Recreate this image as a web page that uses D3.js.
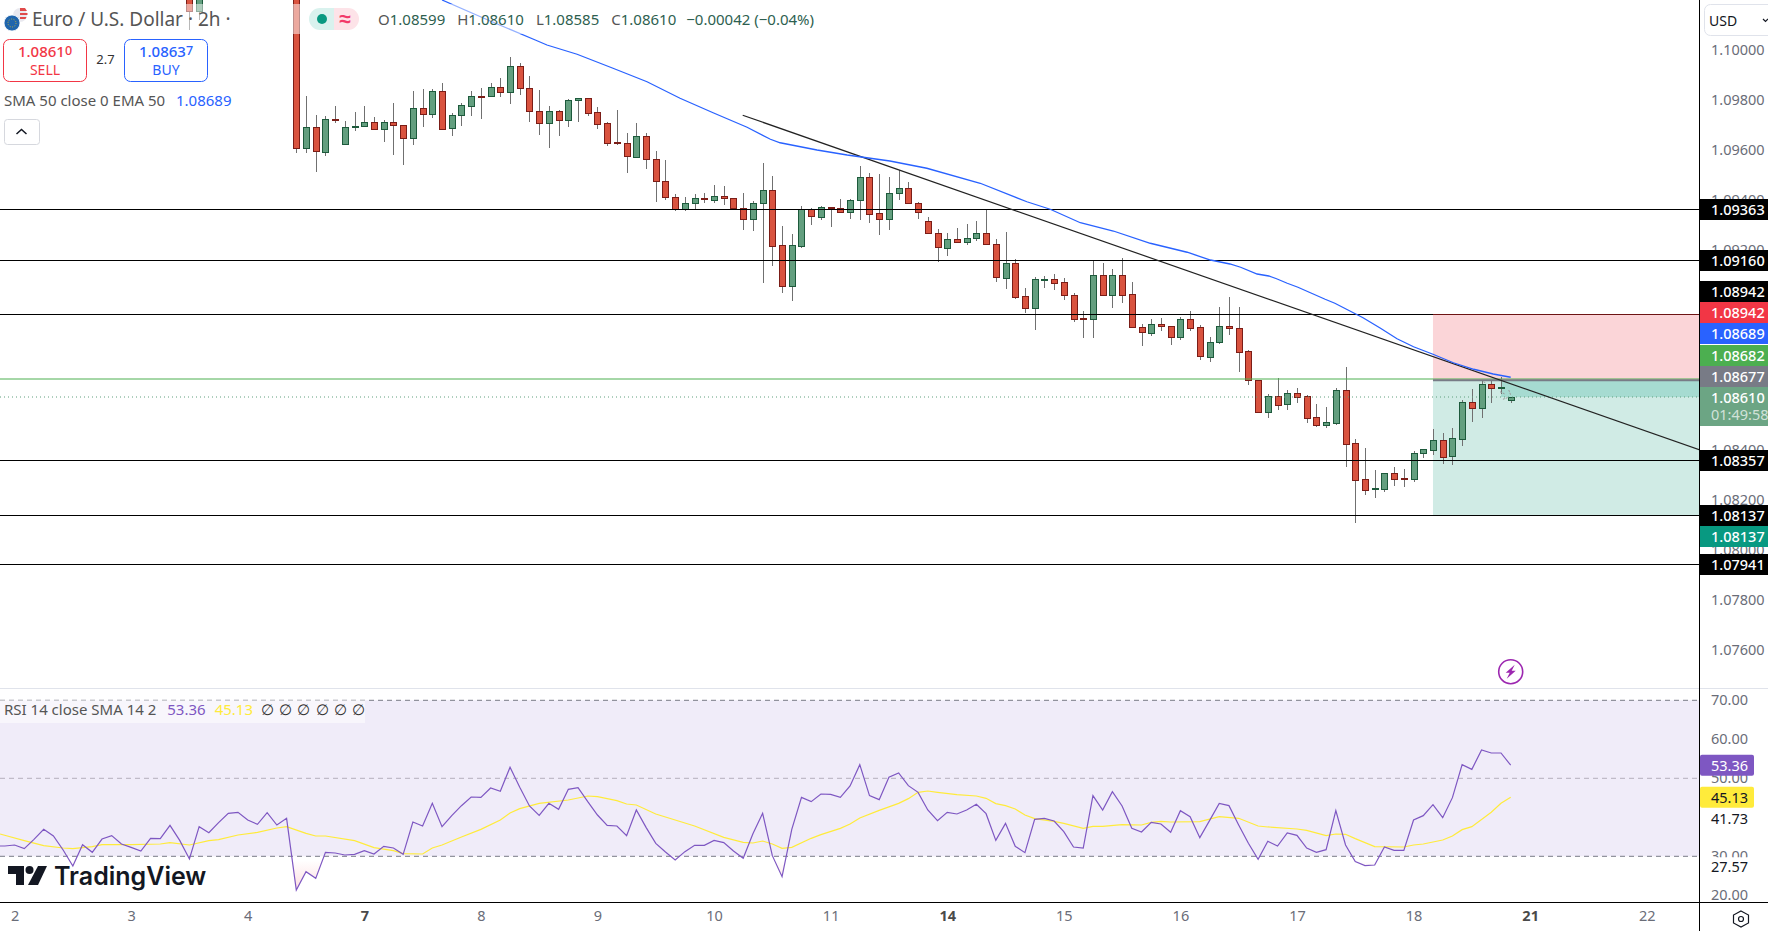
<!DOCTYPE html>
<html>
<head>
<meta charset="utf-8">
<style>
	html, body { margin: 0; padding: 0; background: #fff; overflow: hidden; }
	svg { display: block; font-family: "Noto Sans", sans-serif; }
	text { -webkit-font-smoothing: antialiased; }
</style>
<script src="https://cdn.jsdelivr.net/npm/d3@7"></script>
</head>
<body>
<svg id="chart" width="1768" height="931"></svg>
<script>
// candles, index 0 is the tall red bar at the left edge of the visible run
var opens = [1.10400,1.09603,1.09689,1.09591,1.09721,1.09619,1.09687,1.09691,1.09709,1.09679,
	1.09709,1.09697,1.09643,1.09765,1.09739,1.09833,1.09683,1.09735,1.09775,1.09813,
	1.09813,1.09849,1.09831,1.09933,1.09845,1.09753,1.09703,1.09753,1.09715,1.09795,
	1.09805,1.09749,1.09705,1.09629,1.09625,1.09571,1.09653,1.09561,1.09473,1.09409,
	1.09359,1.09383,1.09405,1.09399,1.09413,1.09405,1.09365,1.09323,1.09383,1.09437,
	1.09217,1.09051,1.09215,1.09361,1.09331,1.09370,1.09365,1.09351,1.09395,1.09489,
	1.09345,1.09323,1.09423,1.09445,1.09385,1.09313,1.09265,1.09207,1.09241,1.09231,
	1.09243,1.09265,1.09221,1.09087,1.09145,1.09013,1.08967,1.09079,1.09081,1.09069,
	1.09017,1.08925,1.08919,1.09097,1.09019,1.09097,1.09021,1.08889,1.08867,1.08901,
	1.08893,1.08847,1.08921,1.08889,1.08771,1.08827,1.08893,1.08885,1.08793,1.08677,
	1.08551,1.08613,1.08579,1.08625,1.08613,1.08529,1.08499,1.08507,1.08637,1.08425,
	1.08281,1.08243,1.08243,1.08305,1.08285,1.08283,1.08383,1.08399,1.08437,1.08371,
	1.08443,1.08589,1.08563,1.08661,1.08647,1.08599];
var highs = [1.10450,1.09814,1.09738,1.09734,1.09774,1.09714,1.09750,1.09774,1.09729,1.09717,
	1.09786,1.09697,1.09834,1.09841,1.09841,1.09866,1.09745,1.09785,1.09834,1.09846,
	1.09866,1.09886,1.09970,1.09946,1.09894,1.09838,1.09774,1.09758,1.09801,1.09805,
	1.09805,1.09770,1.09709,1.09758,1.09666,1.09706,1.09666,1.09594,1.09558,1.09422,
	1.09409,1.09422,1.09426,1.09458,1.09454,1.09405,1.09426,1.09393,1.09546,1.09494,
	1.09294,1.09262,1.09374,1.09365,1.09373,1.09370,1.09402,1.09401,1.09534,1.09506,
	1.09502,1.09490,1.09518,1.09470,1.09389,1.09330,1.09281,1.09265,1.09285,1.09302,
	1.09314,1.09361,1.09243,1.09270,1.09161,1.09045,1.09090,1.09093,1.09102,1.09085,
	1.09025,1.08953,1.09157,1.09145,1.09121,1.09165,1.09069,1.08901,1.08922,1.08925,
	1.08893,1.08929,1.08953,1.08897,1.08849,1.08969,1.09009,1.08969,1.08797,1.08677,
	1.08621,1.08686,1.08637,1.08645,1.08617,1.08581,1.08569,1.08645,1.08729,1.08441,
	1.08405,1.08317,1.08305,1.08330,1.08321,1.08393,1.08401,1.08481,1.08465,1.08485,
	1.08597,1.08641,1.08677,1.08678,1.08689,1.08610];
var lows = [1.09587,1.09587,1.09511,1.09575,1.09705,1.09619,1.09675,1.09691,1.09679,1.09631,
	1.09579,1.09539,1.09619,1.09691,1.09727,1.09679,1.09655,1.09695,1.09735,1.09723,
	1.09813,1.09811,1.09783,1.09819,1.09711,1.09659,1.09607,1.09655,1.09691,1.09711,
	1.09735,1.09683,1.09615,1.09619,1.09507,1.09567,1.09523,1.09391,1.09399,1.09355,
	1.09355,1.09361,1.09387,1.09387,1.09379,1.09359,1.09279,1.09275,1.09067,1.09134,
	1.09027,1.08995,1.09207,1.09299,1.09319,1.09291,1.09351,1.09323,1.09319,1.09307,
	1.09259,1.09279,1.09399,1.09383,1.09323,1.09263,1.09151,1.09175,1.09231,1.09219,
	1.09235,1.09219,1.09071,1.09043,1.09003,1.08947,1.08879,1.09047,1.09039,1.08999,
	1.08911,1.08847,1.08847,1.09019,1.08967,1.08987,1.08887,1.08815,1.08855,1.08875,
	1.08819,1.08839,1.08875,1.08759,1.08751,1.08823,1.08859,1.08711,1.08659,1.08551,
	1.08526,1.08559,1.08559,1.08587,1.08507,1.08491,1.08487,1.08499,1.08331,1.08107,
	1.08219,1.08207,1.08231,1.08255,1.08251,1.08271,1.08367,1.08378,1.08342,1.08338,
	1.08414,1.08511,1.08526,1.08587,1.08621,1.08585];
var closes = [1.09603,1.09689,1.09591,1.09721,1.09715,1.09689,1.09693,1.09709,1.09679,1.09709,
	1.09695,1.09643,1.09765,1.09739,1.09833,1.09683,1.09737,1.09777,1.09813,1.09811,
	1.09849,1.09831,1.09933,1.09843,1.09751,1.09703,1.09753,1.09715,1.09797,1.09805,
	1.09747,1.09703,1.09627,1.09627,1.09571,1.09653,1.09559,1.09471,1.09407,1.09359,
	1.09385,1.09405,1.09403,1.09413,1.09403,1.09363,1.09323,1.09385,1.09437,1.09215,
	1.09051,1.09217,1.09361,1.09331,1.09369,1.09367,1.09351,1.09397,1.09489,1.09343,
	1.09323,1.09425,1.09445,1.09383,1.09351,1.09263,1.09207,1.09241,1.09231,1.09245,
	1.09265,1.09219,1.09087,1.09145,1.09011,1.08967,1.09081,1.09081,1.09067,1.09015,
	1.08923,1.08919,1.09097,1.09019,1.09097,1.09019,1.08887,1.08867,1.08901,1.08891,
	1.08847,1.08921,1.08887,1.08771,1.08829,1.08893,1.08883,1.08791,1.08675,1.08551,
	1.08613,1.08579,1.08625,1.08611,1.08527,1.08499,1.08509,1.08637,1.08423,1.08279,
	1.08239,1.08245,1.08305,1.08283,1.08283,1.08385,1.08401,1.08437,1.08371,1.08445,
	1.08589,1.08563,1.08661,1.08647,1.08649,1.08610];

// two older candles still poking into the top of the picture
var earlyIndex = [-11, -10];
var earlyOpens = [1.10300, 1.10155];
var earlyHighs = [1.10350, 1.10350];
var earlyLows = [1.10078, 1.10118];
var earlyCloses = [1.10155, 1.10300];

var priceTicks = [1.100,1.098,1.096,1.094,1.092,1.090,1.088,1.086,1.084,1.082,1.080,1.078,1.076];
var dayTickIndex = [-29,-17,-5,7,19,31,43,55,67,79,91,103,115,127,139];
var dayLabels = ["2","3","4","7","8","9","10","11","14","15","16","17","18","21","22"];
var weekStarts = ["7","14","21"];

// EMA 50, read at the corners of the line
var emaIndex = [15,19.9,24.6,25.8,28.9,32.6,36.1,39.5,42.9,46.4,48.8,49.8,53.6,56.7,61.1,64.9,70.4,75.2,77.6,80.7,84.1,87.9,91.7,94.1,96.1,97.2,98.9,100.1,100.9,102,103.1,104.5,105.9,106.9,108.1,109.8,111.6,113.3,115,117,119.1,121.2,123.2,125];
var emaValues = [1.10198,1.10115,1.10038,1.10018,1.09981,1.09925,1.09871,1.09805,1.09747,1.09689,1.09641,1.09627,1.09598,1.09578,1.09554,1.09525,1.09465,1.09391,1.09361,1.09307,1.09274,1.09225,1.09189,1.09158,1.09142,1.09129,1.09102,1.09094,1.09083,1.09065,1.09049,1.09025,1.09001,1.08985,1.08961,1.08927,1.08885,1.08843,1.08811,1.08781,1.08747,1.08721,1.08702,1.08689];

// drawn levels
var levelPrices = [1.09363, 1.09160, 1.08942, 1.08357, 1.08137, 1.07941];
var entryPrice = 1.08682;
var lastPrice = 1.08610;
var stopPrice = 1.08942;
var positionEntry = 1.08677;
var targetPrice = 1.08137;
var positionStartIndex = 117;
var trendIndex = [45.95, 144.4];
var trendPrices = [1.09737, 1.08399];

// dashes of the faint projection next to the last candles
var ghostIndex = [[122.2,122.4],[123.9,124.4],[124.8,125],[124.2,124.8]];
var ghostPrices = [[1.08671,1.08667],[1.08631,1.08622],[1.08638,1.08618],[1.08601,1.08609]];

// price scale tags
var tagPrices = [1.09363,1.09160,1.08942,1.08942,1.08689,1.08682,1.08677,1.08610,1.08357,1.08137,1.08137,1.07941];
var tagFills = ["#000","#000","#000","#f23645","#2962ff","#4caf50","#787b86","#6ca584","#000","#000","#089981","#000"];

// RSI, starting at candle -31
var rsiStart = -31;
var rsiValues = [32.64,32.64,32.9,31.96,34.35,36.91,35.2,31.61,27.51,32.98,31.02,34.43,35.29,33.15,32.3,31.36,34.61,34.52,37.94,34.09,29.31,37.6,36.06,38.62,41.02,41.27,39.31,38.2,41.19,38.02,39.73,
	21.36,26.06,24.35,31.02,30.85,30.33,30.5,31.44,30.59,32.55,32.13,30.5,38.79,37.77,43.58,37.6,40.42,42.98,45.2,45.12,47.51,46.66,52.81,47.68,42.9,40.5,43.58,42.04,47.17,47.6,44.01,40.59,
	37.94,37.77,35.29,41.87,37.43,33.32,31.1,29.05,31.19,32.81,32.81,34.09,33.5,31.36,29.48,35.8,41.02,30.16,24.78,36.91,45.12,44.01,45.97,45.89,45.12,48.03,53.5,45.55,44.52,50.25,51.36,48.11,46.4,41.87,39.14,41.27,40.85,41.87,43.32,40.93,34.09,38.45,32.56,30.93,39.48,39.73,39.05,36.32,32.38,32.13,45.55,41.87,
	46.58,42.9,37.17,36.23,38.71,38.29,36.15,41.7,40.17,34.78,39.14,43.58,42.99,38.03,33.33,29.23,33.84,32.64,35.98,35.38,32.13,31.02,31.7,41.7,32.9,28.63,27.6,27.77,32.39,31.53,31.53,39.31,40.42,43.24,39.91,45.04,53.5,52.3,57.26,56.49,56.49,53.36];

// SMA of the RSI, read at the corners of the line
var smaIndex = [-30.5,-28,-26,-24,-23,-21,-20,-17,-14,-13,-11,-9,-8,-6,-4,-2,-1,1,2,3,6,8,10,11,13,14,15,17,19,21,22,23,25,28,30,31,
	33,34,35,37,41,44,46,47,48,49,50,51,53,54,56,57,58,60,62,63,64,65,66,68,70,71,72,73,74,75,76,78,79,81,82,83,
	85,87,88,89,90,93,95,97,99,100,103,104,106,107,108,109,111,114,115,116,118,119,120,121,123,124,125];
var smaValues = [35.72,34.01,32.73,32.13,31.96,32.47,32.98,32.98,33.15,33.49,32.9,34.01,34.26,35.46,36.14,37.26,37.6,35.89,35.2,35.2,34.01,32.21,31.44,30.67,30.59,32.13,32.9,34.95,36.91,39.31,41.1,42.21,43.58,44.43,45.46,45.29,
	44.26,43.41,43.15,40.85,37.77,34.86,33.58,33.41,33.92,33.15,32.04,32.3,34.61,35.55,37.17,38.28,39.82,41.79,43.58,44.78,46.4,46.74,46.4,45.8,45.46,44.86,43.5,42.98,42.13,40.59,39.65,38.97,38.45,37.17,37.68,37.68,
	38.11,38.03,38.71,38.97,38.8,38.88,40.17,39.74,37.77,37.52,37,36.66,35.29,35.72,35.64,34.52,32.47,32.39,32.9,33.16,34.18,35.21,36.83,37.6,41.28,43.58,45.13];
var rsiTicks = [70, 60, 50, 40, 30, 20];
var rsiBandTop = 70;
var rsiBandBottom = 30;
var rsiMiddle = 50;
var rsiTagValues = [53.36, 45.13];
var rsiTagFills = ["#7e57c2", "#ffeb3b"];
var rsiTagInks = ["#fff", "#131722"];
var rsiPlainValues = [41.73, 27.57];

// legend values
var ohlcNames = ["O", "H", "L", "C"];
var ohlcValues = ["1.08599", "1.08610", "1.08585", "1.08610"];

var PLOT_W = 1699, PANE_H = 688, AXIS_Y = 902, W = 1768, H = 931;
var RED = "#d9533f", RED_EDGE = "#7b1d17", GREEN = "#639f7f", GREEN_EDGE = "#1d5a3c", WICK = "#707070";

var x = d3.scaleLinear().domain([0, 125]).range([296.3, 1510.7]);
var y = d3.scaleLinear().domain([1.1, 1.076]).range([49.5, 649.5]);
var yRsi = d3.scaleLinear().domain([70, 30]).range([700.3, 856.3]);

var svg = d3.select("#chart");
var defs = svg.append("defs");
defs.append("clipPath").attr("id", "mainClip").append("rect").attr("width", PLOT_W).attr("height", PANE_H);
defs.append("clipPath").attr("id", "rsiClip").append("rect").attr("y", PANE_H).attr("width", PLOT_W).attr("height", AXIS_Y - PANE_H);

var main = svg.append("g").attr("clip-path", "url(#mainClip)");
var rsi = svg.append("g").attr("clip-path", "url(#rsiClip)");

/*
Long position zones
*/
var zoneX = x(positionStartIndex);
main.append("rect").attr("x", zoneX).attr("y", y(stopPrice)).attr("width", PLOT_W - zoneX).attr("height", y(positionEntry) - y(stopPrice)).attr("fill", "#fbd5d8");
main.append("rect").attr("x", zoneX).attr("y", y(positionEntry)).attr("width", PLOT_W - zoneX).attr("height", y(targetPrice) - y(positionEntry)).attr("fill", "#d0ebe5");
main.append("rect").attr("x", x(124)).attr("y", y(positionEntry)).attr("width", PLOT_W - x(124)).attr("height", y(lastPrice) - y(positionEntry)).attr("fill", "#a6dbd1");

/*
Candles
*/
function drawCandles(rows) {
	var g = main.append("g").attr("shape-rendering", "crispEdges");
	g.selectAll(".wick").data(rows).enter().append("line")
		.attr("class", "wick")
		.attr("x1", function(d) { return Math.round(x(d.i)) + 0.5; })
		.attr("x2", function(d) { return Math.round(x(d.i)) + 0.5; })
		.attr("y1", function(d) { return y(d.h); })
		.attr("y2", function(d) { return y(d.l); })
		.attr("stroke", WICK);
	g.selectAll(".body").data(rows).enter().append("rect")
		.attr("class", "body")
		.attr("x", function(d) { return Math.round(x(d.i)) - 2.5; })
		.attr("y", function(d) { return Math.round(y(Math.max(d.o, d.c))) + 0.5; })
		.attr("width", 6)
		.attr("height", function(d) { return Math.max(1, Math.round(y(Math.min(d.o, d.c)) - y(Math.max(d.o, d.c)))); })
		.attr("fill", function(d) { return d.c >= d.o ? GREEN : RED; })
		.attr("stroke", function(d) { return d.c >= d.o ? GREEN_EDGE : RED_EDGE; });
}
var candleRows = opens.map(function(o, i) {
	return {i: i, o: o, h: highs[i], l: lows[i], c: closes[i]};
});
earlyIndex.forEach(function(idx, k) {
	candleRows.push({i: idx, o: earlyOpens[k], h: earlyHighs[k], l: earlyLows[k], c: earlyCloses[k]});
});
drawCandles(candleRows);

/*
Horizontal levels, trend line, EMA
*/
levelPrices.forEach(function(p) {
	main.append("line").attr("x1", 0).attr("x2", PLOT_W).attr("y1", Math.round(y(p)) + 0.5).attr("y2", Math.round(y(p)) + 0.5).attr("stroke", "#000").attr("stroke-width", 1.2);
});
main.append("line").attr("x1", zoneX).attr("x2", PLOT_W).attr("y1", Math.round(y(stopPrice)) + 0.5).attr("y2", Math.round(y(stopPrice)) + 0.5).attr("stroke", "#6d1414").attr("stroke-width", 1.2);
main.append("line").attr("x1", 0).attr("x2", PLOT_W).attr("y1", y(entryPrice)).attr("y2", y(entryPrice)).attr("stroke", "#4caf50").attr("stroke-width", 1);
main.append("line").attr("x1", zoneX).attr("x2", PLOT_W).attr("y1", y(positionEntry)).attr("y2", y(positionEntry)).attr("stroke", "#787b86").attr("stroke-width", 2);
main.append("line").attr("x1", 0).attr("x2", PLOT_W).attr("y1", y(lastPrice)).attr("y2", y(lastPrice)).attr("stroke", "#5f9e7d").attr("stroke-dasharray", "1 3");
main.append("line").attr("x1", x(trendIndex[0])).attr("x2", x(trendIndex[1])).attr("y1", y(trendPrices[0])).attr("y2", y(trendPrices[1])).attr("stroke", "#222").attr("stroke-width", 1.2);

var emaLine = d3.line().x(function(d, i) { return x(emaIndex[i]); }).y(function(d) { return y(d); });
main.append("path").attr("d", emaLine(emaValues)).attr("fill", "none").attr("stroke", "#2962ff").attr("stroke-width", 1.3);

ghostIndex.forEach(function(pair, k) {
	main.append("line").attr("x1", x(pair[0])).attr("x2", x(pair[1])).attr("y1", y(ghostPrices[k][0])).attr("y2", y(ghostPrices[k][1])).attr("stroke", "#9a9a9a").attr("stroke-dasharray", "2 1");
});

/*
Flash icon above the RSI pane
*/
var flash = svg.append("g").attr("transform", "translate(1510.7,671.7)");
flash.append("circle").attr("r", 12).attr("fill", "#fff").attr("stroke", "#9c27b0").attr("stroke-width", 1.6);
flash.append("path").attr("d", "M4 -7 L-5 1 L-1 1 L-4 7 L5 -1 L1 -1 Z").attr("fill", "#9c27b0");

/*
RSI pane
*/
rsi.append("rect").attr("x", 0).attr("y", yRsi(rsiBandTop)).attr("width", PLOT_W).attr("height", yRsi(rsiBandBottom) - yRsi(rsiBandTop)).attr("fill", "#f0ecf9");
[rsiBandTop, rsiBandBottom].forEach(function(v) {
	rsi.append("line").attr("x1", 0).attr("x2", PLOT_W).attr("y1", yRsi(v)).attr("y2", yRsi(v)).attr("stroke", "#787b86").attr("stroke-dasharray", "5 4");
});
rsi.append("line").attr("x1", 0).attr("x2", PLOT_W).attr("y1", yRsi(rsiMiddle)).attr("y2", yRsi(rsiMiddle)).attr("stroke", "#b4b0bc").attr("stroke-dasharray", "5 4");

// oversold fill under the 30 line
var grad = defs.append("linearGradient").attr("id", "oversold").attr("gradientUnits", "userSpaceOnUse")
	.attr("x1", 0).attr("x2", 0).attr("y1", yRsi(rsiBandBottom) + 4).attr("y2", yRsi(rsiBandBottom) + 36);
grad.append("stop").attr("offset", 0).attr("stop-color", "#f23645").attr("stop-opacity", 0);
grad.append("stop").attr("offset", 1).attr("stop-color", "#f23645").attr("stop-opacity", 0.18);
defs.append("clipPath").attr("id", "belowThirty").append("rect").attr("y", yRsi(rsiBandBottom)).attr("width", PLOT_W).attr("height", AXIS_Y - yRsi(rsiBandBottom));
var rsiIndex = function(i) { return rsiStart + i; };
rsi.append("path")
	.attr("d", d3.area().x(function(d, i) { return x(rsiIndex(i)); }).y0(yRsi(rsiBandBottom)).y1(function(d) { return yRsi(d); })(rsiValues))
	.attr("fill", "url(#oversold)").attr("clip-path", "url(#belowThirty)");

var rsiLine = d3.line().x(function(d, i) { return x(rsiIndex(i)); }).y(function(d) { return yRsi(d); });
var smaLine = d3.line().x(function(d, i) { return x(smaIndex[i]); }).y(function(d) { return yRsi(d); });
rsi.append("path").attr("d", smaLine(smaValues)).attr("fill", "none").attr("stroke", "#ffeb3b").attr("stroke-width", 1.2);
rsi.append("path").attr("d", rsiLine(rsiValues)).attr("fill", "none").attr("stroke", "#7e57c2").attr("stroke-width", 1.2);

/*
Frame
*/
svg.append("line").attr("x1", 0).attr("x2", W).attr("y1", PANE_H + 0.5).attr("y2", PANE_H + 0.5).attr("stroke", "#e0e3eb");
svg.append("line").attr("x1", PLOT_W + 0.5).attr("x2", PLOT_W + 0.5).attr("y1", 0).attr("y2", H).attr("stroke", "#000");
svg.append("line").attr("x1", 0).attr("x2", W).attr("y1", AXIS_Y + 0.5).attr("y2", AXIS_Y + 0.5).attr("stroke", "#000");

/*
Axes
*/
var axisPrice = svg.append("g").attr("transform", "translate(" + PLOT_W + ",0.5)")
	.call(d3.axisRight(y).tickValues(priceTicks).tickSize(0).tickPadding(12).tickFormat(d3.format(".5f")));
var axisRsi = svg.append("g").attr("transform", "translate(" + PLOT_W + ",0)")
	.call(d3.axisRight(yRsi).tickValues(rsiTicks).tickSize(0).tickPadding(12).tickFormat(d3.format(".2f")));
var axisDays = svg.append("g").attr("transform", "translate(0," + AXIS_Y + ")")
	.call(d3.axisBottom(x).tickValues(dayTickIndex).tickSize(0).tickPadding(9).tickFormat(function(d, i) { return dayLabels[i]; }));
[axisPrice, axisRsi, axisDays].forEach(function(a) {
	a.select(".domain").remove();
	a.selectAll("text").attr("font-family", '"Noto Sans", sans-serif').attr("font-size", 14.5).attr("fill", "#6a6d78");
});
axisDays.selectAll("text").filter(function(d, i) { return weekStarts.indexOf(dayLabels[i]) >= 0; }).attr("font-weight", 700).attr("fill", "#4a4a4a");

/*
Price tags on the right axis, pushed apart where they would collide
*/
var tagNudge = [1, 1, -23, -2, -43.5, -23.7, -3.75, 0, 0.5, 0.5, 21.5, 0];
var tagG = svg.append("g");
tagPrices.forEach(function(p, i) {
	var c = y(p) + tagNudge[i];
	var isLast = p === lastPrice;
	tagG.append("rect").attr("x", PLOT_W + 1).attr("y", Math.round(c - 10.5)).attr("width", W - PLOT_W - 1).attr("height", isLast ? 39 : 21).attr("fill", tagFills[i]);
	tagG.append("text").attr("x", 1711).attr("y", c + 5.5).attr("font-size", 14.5).attr("font-weight", 500).attr("fill", "#fff").text(d3.format(".5f")(p));
	if (isLast) tagG.append("text").attr("x", 1711).attr("y", c + 23).attr("font-size", 14.5).attr("fill", "rgba(255,255,255,0.7)").text("01:49:58");
});

rsiPlainValues.forEach(function(v, i) {
	var c = i === 0 ? yRsi(v) + 8.5 : yRsi(v) + 1;
	svg.append("rect").attr("x", PLOT_W + 1).attr("y", c - 9.5).attr("width", 54).attr("height", 20).attr("fill", "#fff");
	svg.append("text").attr("x", 1711).attr("y", c + 5).attr("font-size", 14.5).attr("fill", "#131722").text(d3.format(".2f")(v));
});
rsiTagValues.forEach(function(v, i) {
	svg.append("rect").attr("x", PLOT_W + 1).attr("y", yRsi(v) - 10.5).attr("width", 54).attr("height", 21).attr("rx", 2).attr("fill", rsiTagFills[i]);
	svg.append("text").attr("x", 1711).attr("y", yRsi(v) + 5.5).attr("font-size", 14.5).attr("fill", rsiTagInks[i]).text(d3.format(".2f")(v));
});

/*
Corner controls
*/
svg.append("rect").attr("x", 1704.5).attr("y", 4.5).attr("width", 80).attr("height", 31).attr("rx", 6).attr("fill", "#fff").attr("stroke", "#e0e3eb");
svg.append("text").attr("x", 1709).attr("y", 26).attr("font-size", 14).attr("fill", "#131722").text("USD");
svg.append("path").attr("d", "M1763 19 L1765.5 21.5 L1768 19").attr("fill", "none").attr("stroke", "#131722").attr("stroke-width", 1.2);
svg.append("path").attr("d", "M1741 911 L1748.5 915 L1748.5 923 L1741 927 L1733.5 923 L1733.5 915 Z").attr("fill", "none").attr("stroke", "#131722").attr("stroke-width", 1.2);
svg.append("circle").attr("cx", 1741).attr("cy", 919).attr("r", 2.5).attr("fill", "none").attr("stroke", "#131722").attr("stroke-width", 1.2);

/*
Legend
*/
svg.append("rect").attr("x", 0).attr("y", 4).attr("width", 820).attr("height", 30).attr("fill", "rgba(255,255,255,0.5)");
svg.append("circle").attr("cx", 20).attr("cy", 15).attr("r", 7).attr("fill", "#e9e9ef");
svg.append("path").attr("d", "M20 8 h5 l2 3 h-7 Z M20 13 h7.5 v2 h-7.5 Z M20 17 h6.5 l-1 2 h-5.5 Z").attr("fill", "#e04a4a");
svg.append("circle").attr("cx", 12).attr("cy", 23).attr("r", 8).attr("fill", "#1f65ad").attr("stroke", "#fff").attr("stroke-width", 0.8);
svg.append("circle").attr("cx", 12).attr("cy", 23).attr("r", 4).attr("fill", "none").attr("stroke", "#c5b23a").attr("stroke-width", 1).attr("stroke-dasharray", "1 1.5");
svg.append("text").attr("x", 32).attr("y", 26).attr("font-size", 19).attr("fill", "#555").text("Euro / U.S. Dollar · 2h ·");

svg.append("path").attr("d", "M320 8 h14 v22 h-14 a11 11 0 0 1 0 -22 Z").attr("fill", "#d9f2ee");
svg.append("path").attr("d", "M334 8 h14 a11 11 0 0 1 0 22 h-14 Z").attr("fill", "#fde3e8");
svg.append("circle").attr("cx", 322).attr("cy", 19).attr("r", 5).attr("fill", "#089981");
svg.append("text").attr("x", 345).attr("y", 26).attr("text-anchor", "middle").attr("font-size", 21).attr("font-weight", 700).attr("fill", "#f23a6a").text("≈");

var ohlc = svg.append("text").attr("x", 378).attr("y", 25).attr("font-size", 15).attr("fill", "#2e5f50");
ohlcNames.forEach(function(n, i) {
	ohlc.append("tspan").attr("fill", "#555").attr("dx", i ? 12 : 0).text(n);
	ohlc.append("tspan").text(ohlcValues[i]);
});
ohlc.append("tspan").attr("dx", 10).text("−0.00042 (−0.04%)");

function tradeBox(bx, color, big, small, word) {
	svg.append("rect").attr("x", bx + 0.5).attr("y", 39.5).attr("width", 83).attr("height", 42).attr("rx", 6).attr("fill", "#fff").attr("stroke", color);
	var t = svg.append("text").attr("x", bx + 42).attr("y", 57).attr("text-anchor", "middle").attr("font-size", 15).attr("font-weight", 500).attr("fill", color);
	t.append("tspan").text(big);
	t.append("tspan").attr("dy", -2).attr("font-size", 12.5).text(small);
	svg.append("text").attr("x", bx + 42).attr("y", 75).attr("text-anchor", "middle").attr("font-size", 14).attr("fill", color).text(word);
}
tradeBox(3, "#f23645", "1.0861", "0", "SELL");
tradeBox(124, "#2962ff", "1.0863", "7", "BUY");
svg.append("text").attr("x", 105.5).attr("y", 64).attr("text-anchor", "middle").attr("font-size", 13).attr("fill", "#333").text("2.7");

svg.append("text").attr("x", 4).attr("y", 106).attr("font-size", 15).attr("fill", "#555").text("SMA 50 close 0 EMA 50");
svg.append("text").attr("x", 176).attr("y", 106).attr("font-size", 15).attr("fill", "#2962ff").text("1.08689");

svg.append("rect").attr("x", 4.5).attr("y", 119.5).attr("width", 35).attr("height", 25).attr("rx", 3).attr("fill", "#fff").attr("stroke", "#d6d8de");
svg.append("path").attr("d", "M16.5 134 L21.5 129.5 L26.5 134").attr("fill", "none").attr("stroke", "#131722").attr("stroke-width", 1.5);

/*
RSI legend
*/
svg.append("rect").attr("x", 0).attr("y", 700).attr("width", 365).attr("height", 23).attr("fill", "rgba(255,255,255,0.5)");
var rsiLegend = svg.append("text").attr("x", 4).attr("y", 715).attr("font-size", 15).attr("fill", "#555");
rsiLegend.append("tspan").text("RSI 14 close SMA 14 2");
rsiLegend.append("tspan").attr("dx", 11).attr("fill", "#7e57c2").text(rsiTagValues[0]);
rsiLegend.append("tspan").attr("dx", 9).attr("fill", "#ffeb3b").text(rsiTagValues[1]);
rsiLegend.append("tspan").attr("dx", 8).attr("fill", "#333").attr("word-spacing", 1.3).text("∅ ∅ ∅ ∅ ∅ ∅");

/*
Logo
*/
var logo = svg.append("g").attr("transform", "translate(8,865)").attr("fill", "#131722");
logo.append("path").attr("d", "M0 1 H16 V20 H8 V9 H0 Z");
logo.append("circle").attr("cx", 21.5).attr("cy", 5).attr("r", 4);
logo.append("path").attr("d", "M30 1 H39 L30 20 H20 Z");
logo.append("text").attr("x", 46).attr("y", 20).attr("font-family", "Inter").attr("font-size", 25).attr("font-weight", 600).text("TradingView");
</script>
</body>
</html>
